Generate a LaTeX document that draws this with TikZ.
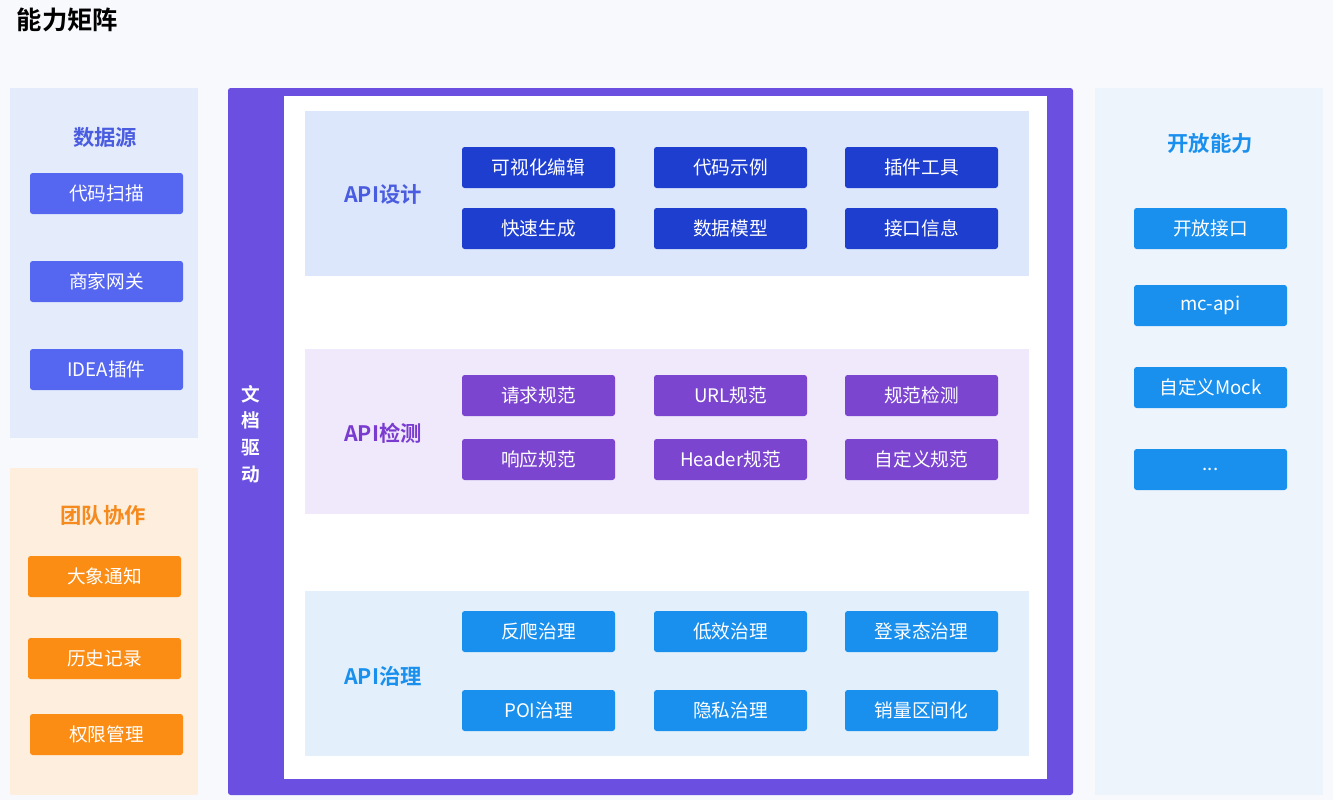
\documentclass[tikz,border=0pt]{standalone}
\usepackage{fontspec}
\setmainfont{Noto Sans CJK SC}
\newfontfamily\cjkb{Noto Sans CJK SC Bold}
\definecolor{bgc}{HTML}{F7F9FD}
\definecolor{dsbg}{HTML}{E4ECFB}
\definecolor{dsbtn}{HTML}{5566F0}
\definecolor{dstxt}{HTML}{4A5DE0}
\definecolor{tmbg}{HTML}{FDEEDD}
\definecolor{tmbtn}{HTML}{FB8C14}
\definecolor{tmtxt}{HTML}{F58A1F}
\definecolor{frame}{HTML}{6A4FE0}
\definecolor{s1bg}{HTML}{DDE7FB}
\definecolor{s1btn}{HTML}{1E3ED0}
\definecolor{s2bg}{HTML}{EFE9FB}
\definecolor{s2btn}{HTML}{7B45CF}
\definecolor{s2txt}{HTML}{7A3CD0}
\definecolor{s3bg}{HTML}{E3F0FB}
\definecolor{s3btn}{HTML}{1A90EE}
\definecolor{rtbg}{HTML}{EEF4FC}
\tikzset{x=0.75pt,y=-0.75pt,
 btn/.style={rounded corners=2pt,text=white,font=\fontsize{14}{16}\selectfont},
 ttl/.style={font=\cjkb\fontsize{16}{18}\selectfont}}
\newcommand\btnat[5]{\fill[#5,rounded corners=2pt] (#1,#2) rectangle ++(153,41);
 \node[text=white,font=\fontsize{14}{16}\selectfont] (#3) at (#1+76.5,#2+20.5) {#4};}
\begin{document}
\begin{tikzpicture}
\useasboundingbox (0,0) rectangle (1333,800);
\fill[bgc] (0,0) rectangle (1333,800);
\node[anchor=west,font=\cjkb\fontsize{19}{21}\selectfont] (title) at (12,20) {能力矩阵};
% data source
\fill[dsbg] (10,88) rectangle (198,438);
\node[ttl,text=dstxt] (dst) at (105,137) {数据源};
\btnat{30}{173}{d1}{代码扫描}{dsbtn}
\btnat{30}{261}{d2}{商家网关}{dsbtn}
\btnat{30}{349}{d3}{IDEA插件}{dsbtn}
% team
\fill[tmbg] (10,468) rectangle (198,795);
\node[ttl,text=tmtxt] (tmt) at (103,515) {团队协作};
\btnat{28}{556}{t1}{大象通知}{tmbtn}
\btnat{28}{638}{t2}{历史记录}{tmbtn}
\btnat{30}{714}{t3}{权限管理}{tmbtn}
% main frame
\fill[frame,rounded corners=2pt] (228,88) rectangle (1073,795);
\fill[white] (284,96) rectangle (1047,779);
\node[text=white,font=\cjkb\fontsize{14}{20}\selectfont,align=center] (doc) at (251,434) {文\\档\\驱\\动};
% section 1
\fill[s1bg] (305,111) rectangle (1029,276);
\node[ttl,text=dstxt] (l1) at (383,194) {API设计};
\btnat{462}{147}{a1}{可视化编辑}{s1btn}
\btnat{654}{147}{a2}{代码示例}{s1btn}
\btnat{845}{147}{a3}{插件工具}{s1btn}
\btnat{462}{208}{a4}{快速生成}{s1btn}
\btnat{654}{208}{a5}{数据模型}{s1btn}
\btnat{845}{208}{a6}{接口信息}{s1btn}
% section 2
\fill[s2bg] (305,349) rectangle (1029,514);
\node[ttl,text=s2txt] (l2) at (383,433) {API检测};
\btnat{462}{375}{b1}{请求规范}{s2btn}
\btnat{654}{375}{b2}{URL规范}{s2btn}
\btnat{845}{375}{b3}{规范检测}{s2btn}
\btnat{462}{439}{b4}{响应规范}{s2btn}
\btnat{654}{439}{b5}{Header规范}{s2btn}
\btnat{845}{439}{b6}{自定义规范}{s2btn}
% section 3
\fill[s3bg] (305,591) rectangle (1029,756);
\node[ttl,text=s3btn] (l3) at (383,676) {API治理};
\btnat{462}{611}{c1}{反爬治理}{s3btn}
\btnat{654}{611}{c2}{低效治理}{s3btn}
\btnat{845}{611}{c3}{登录态治理}{s3btn}
\btnat{462}{690}{c4}{POI治理}{s3btn}
\btnat{654}{690}{c5}{隐私治理}{s3btn}
\btnat{845}{690}{c6}{销量区间化}{s3btn}
% right
\fill[rtbg] (1095,88) rectangle (1323,795);
\node[ttl,text=s3btn] (rt) at (1210,143) {开放能力};
\btnat{1134}{208}{r1}{开放接口}{s3btn}
\btnat{1134}{285}{r2}{mc-api}{s3btn}
\btnat{1134}{367}{r3}{自定义Mock}{s3btn}
\btnat{1134}{449}{r4}{...}{s3btn}
\end{tikzpicture}
\end{document}
